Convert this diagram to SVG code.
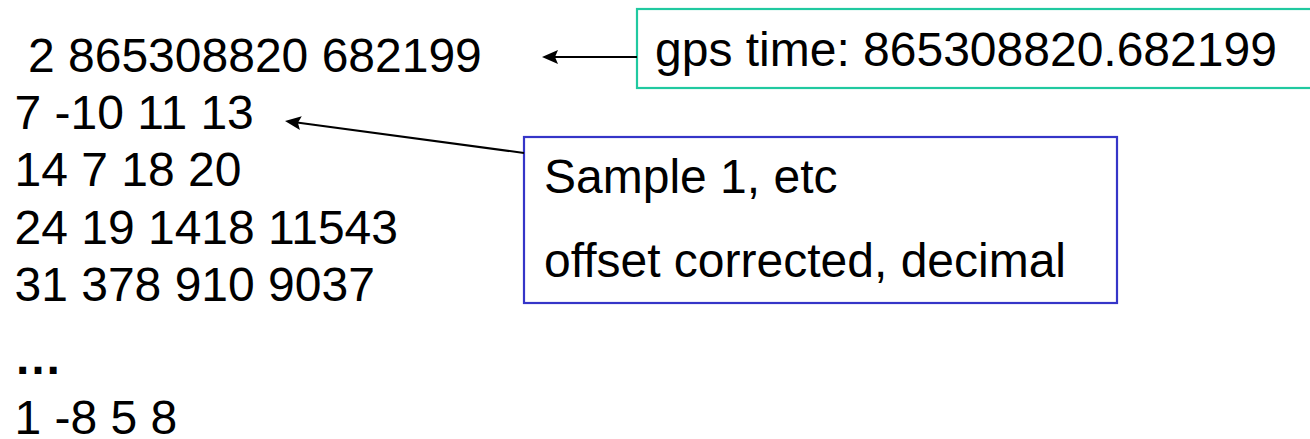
<svg xmlns="http://www.w3.org/2000/svg" width="1310" height="439" viewBox="0 0 1310 439">
  <style>
    .t { font-family: "Liberation Sans", Arial, sans-serif; font-size: 48px; fill: #000; }
    .box-green { fill: #fff; stroke: #20c9a0; stroke-width: 2.2; }
    .box-blue { fill: #fff; stroke: #3535c8; stroke-width: 2.2; }
    .conn { stroke: #000; stroke-width: 2; fill: none; marker-end: url(#arrow); }
  </style>
  <defs>
    <marker id="arrow" markerUnits="userSpaceOnUse" markerWidth="20" markerHeight="20" viewBox="-6 -10 20 20" refX="0" refY="0" orient="auto">
      <path d="M12,0 L-4,-7 L-1,0 L-4,7 Z" fill="#000"/>
    </marker>
  </defs>
  <rect width="1310" height="439" fill="#fff"/>
  <g id="data">
    <text class="t" x="28" y="72">2 865308820 682199</text>
    <text class="t" x="14.5" y="129">7 -10 11 13</text>
    <text class="t" x="14.5" y="186">14 7 18 20</text>
    <text class="t" x="14.5" y="244">24 19 1418 11543</text>
    <text class="t" x="14.5" y="301">31 378 910 9037</text>
    <text class="t" x="14" y="374" font-weight="bold">…</text>
    <text class="t" x="14.5" y="434">1 -8 5 8</text>
  </g>
  <g id="gps-note">
    <rect class="box-green" x="637" y="9" width="680" height="79"/>
    <text class="t" x="655" y="66">gps time: 865308820.682199</text>
  </g>
  <g id="sample-note">
    <rect class="box-blue" x="524" y="137" width="593" height="166"/>
    <text class="t" x="544" y="193">Sample 1, etc</text>
    <text class="t" x="544" y="277">offset corrected, decimal</text>
  </g>
  <g id="connectors">
    <line class="conn" x1="637" y1="57" x2="554" y2="57"/>
    <line class="conn" x1="524" y1="153" x2="296.9" y2="122.6"/>
  </g>
</svg>
